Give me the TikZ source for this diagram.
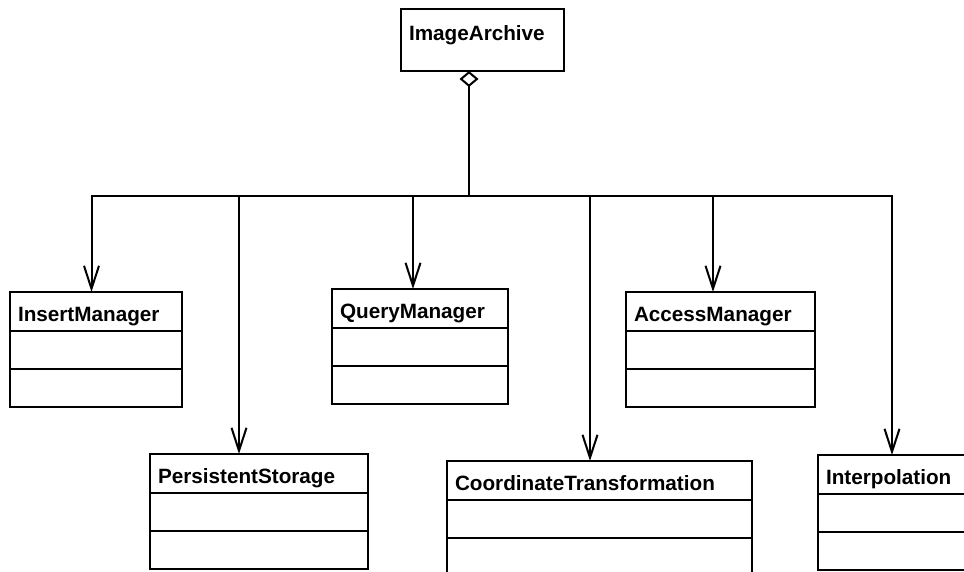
\documentclass[tikz,border=0pt]{standalone}
\usepackage{fontspec}
\setmainfont{Liberation Sans}
\usetikzlibrary{positioning}
\usetikzlibrary{arrows.meta}

\begin{document}
\begin{tikzpicture}
[
x=1pt, y=-1pt,
class-name/.style={rectangle, draw, line width=1.9pt, outer sep=0pt, inner xsep=8pt, inner ysep=0pt, minimum height=39pt, align=left, text height=22pt, text depth=2pt, font=\bfseries\fontsize{20.7pt}{24pt}\selectfont, anchor=north west},
class-part/.style={rectangle, draw, line width=1.9pt, outer sep=0pt, inner sep=0pt, minimum height=38pt},
aggr/.style={line width=2pt, {Diamond[open, length=16pt, width=19pt]}-},
assoc/.style={line width=2pt, -{Straight Barb[length=23pt, width=15pt]}},
]
\useasboundingbox (0,0) rectangle (964,571);
\clip (0,0) rectangle (964,571);
\node (ia)  [class-name, text width=147pt, minimum height=62pt, text depth=21pt] at (401,9) {ImageArchive};
\node (im)  [class-name, text width=156pt] at (10,292) {InsertManager};
\node (im1) [class-part, below=0pt of im, minimum width=172pt] {};
\node (im2) [class-part, below=0pt of im1, minimum width=172pt] {};
\node (qm)  [class-name, text width=160pt] at (332,289) {QueryManager};
\node (qm1) [class-part, below=0pt of qm, minimum width=176pt] {};
\node (qm2) [class-part, below=0pt of qm1, minimum width=176pt] {};
\node (am)  [class-name, text width=173pt] at (626,292) {AccessManager};
\node (am1) [class-part, below=0pt of am, minimum width=189pt] {};
\node (am2) [class-part, below=0pt of am1, minimum width=189pt] {};
\node (ps)  [class-name, text width=202pt] at (150,454) {PersistentStorage};
\node (ps1) [class-part, below=0pt of ps, minimum width=218pt] {};
\node (ps2) [class-part, below=0pt of ps1, minimum width=218pt] {};
\node (ct)  [class-name, text width=289pt] at (447,461) {CoordinateTransformation};
\node (ct1) [class-part, below=0pt of ct, minimum width=305pt] {};
\node (ct2) [class-part, below=0pt of ct1, minimum width=305pt] {};
\node (ip)  [class-name, text width=154pt] at (818,455) {Interpolation};
\node (ip1) [class-part, below=0pt of ip, minimum width=170pt] {};
\node (ip2) [class-part, below=0pt of ip1, minimum width=170pt] {};
\coordinate (fork) at (469,196);
\draw [aggr] (ia.south -| fork) -- (fork);
\draw [assoc] (fork) -| ([xshift=-4.5pt]im.north);
\draw [assoc] (fork) -| ([xshift=-20pt]ps.north);
\draw [assoc] (fork) -| ([xshift=-7pt]qm.north);
\draw [assoc] (fork) -| ([xshift=-9.5pt]ct.north);
\draw [assoc] (fork) -| ([xshift=-7.5pt]am.north);
\draw [assoc] (fork) -| ([xshift=74pt]ip.north west);
\end{tikzpicture}
\end{document}
